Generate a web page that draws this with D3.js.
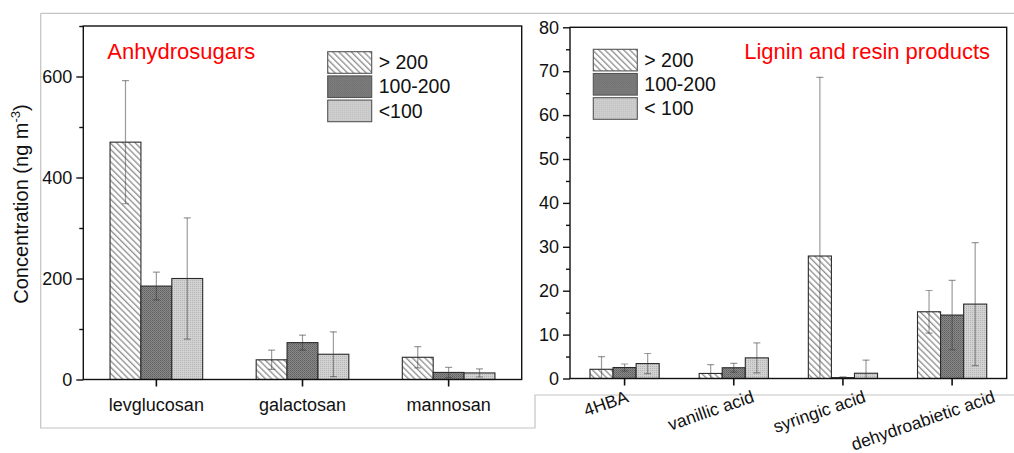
<!DOCTYPE html>
<html><head><meta charset="utf-8">
<script src="https://cdn.jsdelivr.net/npm/d3@7"></script>
<style>
html,body{margin:0;padding:0;background:#fff;}
svg{display:block;font-family:Arial,"Liberation Sans",sans-serif;}
</style></head>
<body>
<svg id="chart" width="1014" height="453"></svg>
<script>
// ---------- DATA ----------
const seriesNames = ["> 200", "100-200", "<100"];
const seriesNamesRight = ["> 200", "100-200", "< 100"];

const sugarCategories = ["levglucosan", "galactosan", "mannosan"];
const sugarHigh    = [470, 39, 44];
const sugarMid     = [185, 73, 14];
const sugarLow     = [200, 50, 13];
const sugarHighErr = [122, 19, 21];
const sugarMidErr  = [27.5, 15, 10];
const sugarLowErr  = [120, 44.5, 8];
const sugarTicks   = [0, 200, 400, 600];

const ligninCategories = ["4HBA", "vanillic acid", "syringic acid", "dehydroabietic acid"];
const ligninHigh    = [2.1, 1.15, 27.9, 15.2];
const ligninMid     = [2.5, 2.45, 0.2, 14.45];
const ligninLow     = [3.4, 4.7, 1.2, 16.95];
const ligninHighErr = [2.9, 2.0, 40.7, 4.85];
const ligninMidErr  = [0.8, 1.0, 0.15, 7.9];
const ligninLowErr  = [2.3, 3.4, 3.0, 14];
const ligninTicks   = [0, 10, 20, 30, 40, 50, 60, 70, 80];

// ---------- SETUP ----------
const svg = d3.select("#chart");
const FONT = 'Arial,"Liberation Sans",sans-serif';
const defs = svg.append("defs");

// patterns
const pHatch = defs.append("pattern").attr("id","pHigh").attr("patternUnits","userSpaceOnUse")
  .attr("width",4.4).attr("height",4.4).attr("patternTransform","rotate(45)");
pHatch.append("rect").attr("width",4.4).attr("height",4.4).attr("fill","#ffffff");
pHatch.append("line").attr("x1",0).attr("x2",4.4).attr("y1",1).attr("y2",1)
  .attr("stroke","#5a5a5a").attr("stroke-width",0.9);

const pMid = defs.append("pattern").attr("id","pMid").attr("patternUnits","userSpaceOnUse")
  .attr("width",2).attr("height",2);
pMid.append("rect").attr("width",2).attr("height",2).attr("fill","#8a8a8a");
pMid.append("rect").attr("width",1).attr("height",1).attr("fill","#5e5e5e");
pMid.append("rect").attr("x",1).attr("y",1).attr("width",1).attr("height",1).attr("fill","#6e6e6e");

const pLow = defs.append("pattern").attr("id","pLow").attr("patternUnits","userSpaceOnUse")
  .attr("width",2).attr("height",2);
pLow.append("rect").attr("width",2).attr("height",2).attr("fill","#d2d2d2");
pLow.append("rect").attr("width",1).attr("height",1).attr("fill","#b4b4b4");

const fills = ["url(#pHigh)","url(#pMid)","url(#pLow)"];

// background screenshot frame lines
svg.append("path")
  .attr("d","M40.7,13.3 H1014 M40.7,13.3 V428 H535 V395 H1014")
  .attr("fill","none").attr("stroke","#c4c4c4").attr("stroke-width",1.2);

function panel(opt){
  const {id,x0,x1,y0,y1,ymax,ticks,minorStep,cats,vals,errs,names,title,titleX,titleAnchor,legX,legY,rotateLabels} = opt;
  const g = svg.append("g");
  const x = d3.scaleBand().domain(cats).range([x0,x1]).padding(0);
  const y = d3.scaleLinear().domain([0,ymax]).range([y1,y0]);
  const groupW = x.bandwidth()*0.634;
  const xs = d3.scaleBand().domain(d3.range(vals.length)).range([0,groupW]).padding(0);

  defs.append("clipPath").attr("id","clip"+id).append("rect")
    .attr("x",x0).attr("y",y0).attr("width",x1-x0).attr("height",y1-y0);

  // bars
  vals.forEach((arr,si)=>{
    g.selectAll(null).data(cats).enter().append("rect")
      .attr("x",c=>x(c)+(x.bandwidth()-groupW)/2+xs(si))
      .attr("y",(c,i)=>y(arr[i]))
      .attr("width",xs.bandwidth())
      .attr("height",(c,i)=>y(0)-y(arr[i]))
      .attr("fill",fills[si]).attr("stroke","#2a2a2a").attr("stroke-width",1.1);
  });
  // error bars
  const eg = g.append("g").attr("clip-path","url(#clip"+id+")");
  vals.forEach((arr,si)=>{
    const er = errs[si];
    cats.forEach((c,i)=>{
      const cx = x(c)+(x.bandwidth()-groupW)/2+xs(si)+xs.bandwidth()/2;
      const top = y(arr[i]+er[i]), bot = y(arr[i]-er[i]);
      const st = {stroke:"#3a3a3a","stroke-opacity":0.5,"stroke-width":1.2};
      const line = (x1_,y1_,x2_,y2_) => {
        const l = eg.append("line").attr("x1",x1_).attr("y1",y1_).attr("x2",x2_).attr("y2",y2_);
        Object.entries(st).forEach(([k,v])=>l.attr(k,v));
      };
      line(cx,top,cx,bot);
      line(cx-3.5,top,cx+3.5,top);
      line(cx-3.5,bot,cx+3.5,bot);
    });
  });

  // frame
  g.append("rect").attr("x",x0).attr("y",y0).attr("width",x1-x0).attr("height",y1-y0)
    .attr("fill","none").attr("stroke","#111").attr("stroke-width",1.4);

  // y axis
  const yAxis = d3.axisLeft(y).tickValues(ticks).tickSize(7).tickPadding(4).tickFormat(d3.format("d"));
  const ya = g.append("g").attr("transform",`translate(${x0},0)`).call(yAxis);
  ya.select(".domain").remove();
  ya.selectAll("line").attr("stroke","#111").attr("stroke-width",1.4);
  ya.selectAll("text").attr("font-family",FONT).attr("font-size",18).attr("fill","#111");
  const minors = d3.range(minorStep, ymax+0.001, minorStep*2);
  const yMinor = d3.axisLeft(y).tickValues(minors).tickSize(4).tickFormat("");
  const ym = g.append("g").attr("transform",`translate(${x0},0)`).call(yMinor);
  ym.select(".domain").remove();
  ym.selectAll("line").attr("stroke","#111").attr("stroke-width",1.4);

  // x axis
  const xAxis = d3.axisBottom(x).tickSize(7).tickFormat("");
  const xa = g.append("g").attr("transform",`translate(0,${y1})`).call(xAxis);
  xa.select(".domain").remove();
  xa.selectAll("line").attr("stroke","#111").attr("stroke-width",1.6);

  if(!rotateLabels){
    g.selectAll(null).data(cats).enter().append("text")
      .attr("x",c=>x(c)+x.bandwidth()/2).attr("y",411)
      .attr("text-anchor","middle").attr("font-family",FONT).attr("font-size",18).attr("fill","#111")
      .text(c=>c);
  } else {
    const deg = 19, ang = deg*Math.PI/180;
    cats.forEach(c=>{
      const t = g.append("text").attr("text-anchor","middle").attr("dominant-baseline","central")
        .attr("font-family",FONT).attr("font-size",17.5).attr("fill","#111").text(c);
      const w = t.node().getComputedTextLength();
      const hh = (w/2)*Math.sin(ang) + 6.3*Math.cos(ang);
      const cx = x(c)+x.bandwidth()/2 - 14 - w*0.1;
      const cy = 390 + hh;
      t.attr("transform",`translate(${cx},${cy}) rotate(${-deg})`);
    });
  }

  // title
  g.append("text").attr("x",titleX).attr("y",58.5).attr("text-anchor",titleAnchor)
    .attr("font-family",FONT).attr("font-size",22).attr("fill","#ff0000").text(title);

  // legend
  const lg = g.append("g").attr("transform",`translate(${legX},${legY})`);
  names.forEach((n,i)=>{
    lg.append("rect").attr("x",0).attr("y",i*24.2).attr("width",44).attr("height",21.6)
      .attr("fill",fills[i]).attr("stroke","#555").attr("stroke-width",1.1);
    lg.append("text").attr("x",51).attr("y",i*24.2+17.6)
      .attr("font-family",FONT).attr("font-size",19.5).attr("fill","#111").text(n);
  });
}

panel({id:"L",x0:83.3,x1:521.7,y0:26,y1:379.5,ymax:700,ticks:sugarTicks,minorStep:100,
  cats:sugarCategories,vals:[sugarHigh,sugarMid,sugarLow],errs:[sugarHighErr,sugarMidErr,sugarLowErr],
  names:seriesNames,title:"Anhydrosugars",titleX:107.3,titleAnchor:"start",legX:327.7,legY:51.7,rotateLabels:false});

panel({id:"R",x0:570,x1:1006.7,y0:27.3,y1:378.5,ymax:80,ticks:ligninTicks,minorStep:5,
  cats:ligninCategories,vals:[ligninHigh,ligninMid,ligninLow],errs:[ligninHighErr,ligninMidErr,ligninLowErr],
  names:seriesNamesRight,title:"Lignin and resin products",titleX:990,titleAnchor:"end",legX:593.3,legY:49.3,rotateLabels:true});

// y-axis title
const yt = svg.append("text").attr("transform","translate(28,204) rotate(-90)")
  .attr("text-anchor","middle").attr("font-family",FONT).attr("font-size",20).attr("fill","#111");
yt.append("tspan").text("Concentration (ng m");
yt.append("tspan").attr("font-size",13).attr("dy",-8).text("-3");
yt.append("tspan").attr("dy",8).text(")");
</script>
</body></html>
